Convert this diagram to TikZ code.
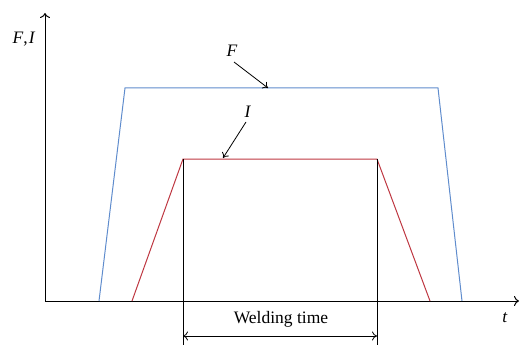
\documentclass[tikz,border=0pt]{standalone}
\usepackage{fontspec}
\setmainfont{Liberation Serif}
\usetikzlibrary{arrows.meta}
\definecolor{fblue}{RGB}{95,140,205}
\definecolor{ired}{RGB}{190,55,65}
\begin{document}
\begin{tikzpicture}[x=1pt,y=-1pt,
  axis/.style={line width=1pt,-{To[length=5pt,width=10pt]}},
  lbl/.style={font=\fontsize{17.5}{20}\selectfont},
  ptr/.style={line width=0.8pt,-{To[length=5pt,width=8pt]}},
  fline/.style={fblue,line width=1pt},
  iline/.style={ired,line width=1pt}]
\useasboundingbox (0,0) rectangle (520,345);
\coordinate (O) at (45,301);
\coordinate (Ytop) at (45,13);
\coordinate (Xend) at (519,301);
\draw[axis] (O) -- (Ytop);
\draw[axis] (O) -- (Xend);
\node[lbl] (fi) at (24,39) {\textit{F},\kern1pt\textit{I}};
\node[lbl] (t) at (505,318) {\textit{t}};
% F curve
\coordinate (f1) at (99,301);
\coordinate (f2) at (125,88);
\coordinate (f3) at (438,88);
\coordinate (f4) at (462,301);
\draw[fline] (f1) -- (f2) -- (f3) -- (f4);
% I curve
\coordinate (i1) at (132,301);
\coordinate (i2) at (183,159);
\coordinate (i3) at (377,159);
\coordinate (i4) at (430,301);
\draw[iline] (i1) -- (i2) -- (i3) -- (i4);
% vertical markers
\coordinate (v1) at (183,345);
\coordinate (v2) at (377,345);
\draw[line width=0.8pt] (i2) -- (v1);
\draw[line width=0.8pt] (i3) -- (v2);
% welding time
\coordinate (w1) at (183,336);
\coordinate (w2) at (377,336);
\draw[line width=0.8pt,{To[length=5pt,width=9pt]}-{To[length=5pt,width=9pt]}] (w1) -- (w2);
\node[lbl] (wt) at (281,319) {Welding time};
% labels
\node[lbl] (F) at (232,51) {\textit{F}};
\node[lbl] (I) at (248,112) {\textit{I}};
\coordinate (fa) at (268,88);
\coordinate (ia) at (223,158);
\draw[ptr] (234,62) -- (fa);
\draw[ptr] (246,122) -- (ia);
\end{tikzpicture}
\end{document}
